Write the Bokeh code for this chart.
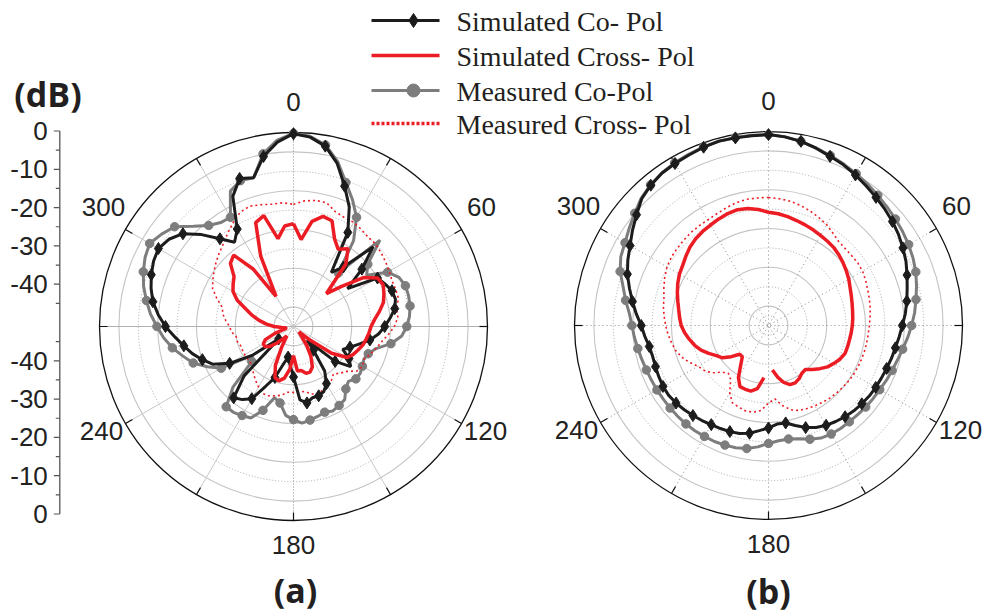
import numpy as np
from bokeh.plotting import figure
from bokeh.models import Range1d
from bokeh.embed import file_html
from bokeh.resources import INLINE
from bokeh.core.properties import value

# ---------------- data (angle in degrees, clockwise from top; level in dB) ----------------
angles = list(range(0, 360, 5))

# (a) left pattern
a_sim_co = [-0.3, -1.0, -2.8, -6.5, -11.5, -16.0, -22.0, -33.0, -30.0, -21.0, -27.0, -33.0,
            -25.0, -24.0, -23.0, -22.8, -23.5, -25.0, -26.5, -28.0, -30.0, -32.5, -34.5, -36.0,
            -33.5, -32.0, -36.0, -45.0, -42.0, -36.0, -33.0, -31.5, -31.0, -31.0, -30.0, -31.0,
            -37.0, -40.0, -42.0, -40.0, -36.0, -33.0, -28.5, -27.0, -26.0, -32.0, -45.0, -37.0,
            -31.0, -27.0, -25.0, -23.0, -21.3, -19.3, -17.0, -15.0, -13.2, -12.0, -11.0, -10.2,
            -9.8, -10.8, -12.8, -16.5, -20.5, -23.5, -21.0, -13.0, -9.4, -10.3, -5.5, -2.3]
a_sim_cross = [-23.5, -27.5, -22.5, -20.6, -21.0, -25.0, -27.0, -25.5, -29.0, -38.0, -34.0, -28.0,
               -25.0, -24.5, -25.2, -26.0, -27.5, -29.0, -30.0, -30.5, -31.0, -31.5, -32.3, -33.0,
               -34.0, -38.0, -45.0, -48.0, -47.0, -44.0, -41.0, -38.5, -37.5, -37.5, -38.5, -38.5,
               -42.5, -39.0, -36.5, -35.5, -36.0, -39.0, -44.0, -47.0, -46.0, -44.0, -42.0, -41.0,
               -41.0, -42.0, -45.0, -48.0, -48.0, -47.0, -45.0, -43.0, -41.0, -39.0, -37.0, -34.0,
               -32.0, -31.0, -30.0, -27.0, -26.0, -32.0, -41.0, -30.0, -21.5, -20.4, -27.0, -24.0]
a_meas_co = [-0.2, -0.8, -2.5, -6.0, -10.5, -14.0, -17.5, -23.0, -32.0, -18.5, -25.0, -27.0,
             -22.0, -20.0, -19.3, -19.3, -19.5, -20.0, -20.8, -22.0, -24.5, -28.0, -29.5, -30.0,
             -29.5, -29.0, -29.0, -30.0, -29.0, -27.0, -26.5, -26.0, -26.5, -26.0, -25.5, -25.0,
             -26.0, -27.0, -30.0, -31.0, -27.0, -24.0, -23.5, -23.0, -23.0, -28.0, -36.0, -37.0,
             -28.5, -25.5, -22.5, -20.5, -18.3, -16.4, -14.8, -13.0, -11.5, -10.0, -8.8, -7.8,
             -7.2, -8.5, -10.0, -13.5, -16.0, -17.3, -17.5, -11.5, -10.0, -10.3, -4.8, -1.8]
a_meas_cross = [-18.5, -17.5, -17.0, -17.0, -18.5, -19.0, -19.0, -19.5, -20.0, -20.0, -20.5, -21.0,
                -21.5, -22.0, -22.0, -22.0, -23.0, -23.0, -24.0, -25.5, -27.0, -28.0, -29.0, -30.0,
                -29.5, -30.0, -32.0, -33.0, -34.0, -33.0, -32.5, -32.0, -31.5, -32.0, -33.0, -33.0,
                -33.0, -33.0, -32.0, -31.5, -31.0, -31.0, -32.0, -33.0, -34.0, -35.0, -35.5, -35.5,
                -35.5, -35.5, -35.5, -35.0, -35.0, -34.0, -33.5, -32.5, -31.5, -31.0, -29.0, -27.0,
                -26.0, -25.0, -24.0, -23.0, -22.0, -20.5, -19.0, -17.5, -17.0, -17.5, -18.0, -18.0]

# (b) right pattern
b_sim_co = [-0.8, -1.2, -1.8, -2.7, -3.6, -4.3, -5.2, -6.1, -6.9, -7.6, -8.3, -9.1,
            -10.0, -10.9, -12.0, -13.0, -13.8, -14.6, -15.5, -16.2, -16.8, -17.2, -17.6, -17.9,
            -18.1, -18.3, -18.6, -18.9, -19.3, -19.8, -20.3, -21.0, -22.0, -23.3, -24.5, -24.5,
            -23.6, -22.8, -21.8, -21.2, -20.9, -20.7, -20.5, -20.1, -19.7, -19.3, -18.9, -18.6,
            -18.6, -18.8, -19.0, -19.1, -18.8, -18.0, -17.2, -15.8, -14.4, -12.9, -11.3, -10.0,
            -8.8, -7.2, -5.6, -3.8, -2.8, -2.1, -1.8, -1.5, -1.1, -0.8, -0.9, -0.9]
b_sim_cross = [-20.8, -21.1, -21.5, -22.0, -22.4, -22.8, -23.2, -23.5, -23.8, -24.3, -24.9, -25.5,
               -26.1, -26.8, -27.3, -27.7, -28.0, -28.2, -28.4, -28.6, -28.8, -28.9, -29.0, -29.6,
               -30.5, -31.4, -32.7, -34.0, -35.2, -35.0, -34.2, -33.7, -33.8, -34.8, -36.5, -38.5,
               None, -36.5, -33.5, -32.5, -32.5, -32.6, -34.5, -37.5, -39.5, -39.5, -37.5, -35.5,
               -34.5, -33.0, -31.5, -30.3, -29.3, -28.3, -27.5, -27.0, -26.5, -25.8, -25.0, -24.2,
               -23.5, -23.0, -22.2, -21.4, -20.8, -20.4, -20.1, -19.7, -19.3, -19.1, -19.4, -20.0]
b_meas_co = [-0.8, -1.2, -1.8, -2.6, -3.4, -4.1, -4.8, -5.5, -6.2, -6.8, -7.3, -7.8,
             -8.3, -8.9, -9.6, -10.5, -11.4, -12.2, -13.1, -14.0, -14.9, -15.6, -16.1, -16.5,
             -16.9, -17.1, -17.3, -17.5, -17.6, -17.6, -17.7, -18.0, -18.8, -19.8, -20.3, -20.2,
             -19.6, -18.6, -17.8, -17.4, -17.2, -17.0, -17.0, -16.9, -16.9, -16.9, -16.9, -16.9,
             -16.8, -16.7, -16.5, -16.2, -15.8, -15.3, -14.8, -14.0, -12.6, -11.2, -9.3, -8.0,
             -7.3, -6.2, -5.0, -3.6, -2.7, -2.0, -1.6, -1.3, -1.0, -0.8, -0.8, -0.8]
b_meas_cross = [-17.0, -17.2, -17.5, -18.0, -18.6, -19.3, -20.0, -21.0, -21.8, -22.0, -22.0, -21.9,
                -22.0, -22.4, -22.8, -23.1, -23.4, -23.7, -24.0, -24.2, -24.3, -24.4, -24.5, -24.6,
                -24.7, -24.9, -25.1, -25.3, -25.5, -25.8, -26.1, -26.4, -26.7, -27.5, -29.0, -31.0,
                -30.0, -28.0, -27.3, -27.2, -27.6, -28.0, -30.0, -33.0, -33.9, -33.0, -31.0, -29.8,
                -29.0, -27.5, -26.2, -25.2, -24.6, -24.0, -23.5, -23.0, -22.5, -22.1, -21.3, -20.5,
                -19.8, -19.4, -19.2, -19.0, -18.8, -18.7, -18.6, -18.3, -17.8, -17.3, -17.0, -17.0]

series_names = ["Simulated Co- Pol", "Simulated Cross- Pol", "Measured Co-Pol", "Measured Cross- Pol"]
angle_ticks = [0, 60, 120, 180, 240, 300]
angle_tick_labels = ["0", "60", "120", "180", "240", "300"]
# dB scale: signed distance from the pattern centre (+ above, - below)
db_ticks = [50, 40, 30, 20, 10, -10, -20, -30, -40, -50]
db_tick_labels = ["0", "-10", "-20", "-30", "-40", "-40", "-30", "-20", "-10", "0"]
db_minor_ticks = [45, 35, 25, 15, 5, -5, -15, -25, -35, -45]
panel_labels = ["(a)", "(b)"]
unit_label = "(dB)"

# ---------------- layout ----------------
W, H = 988, 615
R = 194.0
DB_MIN, DB_MAX = -50.0, 0.0
centers = [(293.0, 326.0), (768.0, 325.0)]

BLACK = "#1c1c1c"
GREY = "#7d7d7d"
RED = "#ec1c24"
TXT = "#231f20"


def yu(y_img):
    return H - np.asarray(y_img, dtype=float)


def to_xy(cx, cy, ang, db):
    ang = np.radians(np.asarray(ang, dtype=float))
    d = np.array([np.nan if v is None else v for v in db], dtype=float)
    r = (d - DB_MIN) / (DB_MAX - DB_MIN) * R
    x = cx + r * np.sin(ang)
    y = cy - r * np.cos(ang)
    return x, yu(y)


def closed(a):
    return list(a) + [a[0]]


p = figure(width=W, height=H, output_backend="svg", toolbar_location=None,
           x_range=Range1d(0, W), y_range=Range1d(0, H),
           x_axis_type=None, y_axis_type=None,
           min_border_left=0, min_border_right=0, min_border_top=0, min_border_bottom=0)
p.outline_line_color = None
p.background_fill_color = "white"

# ---- dB scale bar at the left ----
AX_X, AX_C, AX_PX = 59.3, 322.0, 3.83   # axis x, centre y, pixels per dB


def db_to_y(u):
    return yu(AX_C - np.asarray(u, dtype=float) * AX_PX)


p.segment(x0=[AX_X], y0=db_to_y([50]), x1=[AX_X], y1=db_to_y([-50]),
          line_color="#555555", line_width=1.3)
p.segment(x0=[AX_X] * len(db_ticks), y0=db_to_y(db_ticks),
          x1=[AX_X - 6] * len(db_ticks), y1=db_to_y(db_ticks),
          line_color="#555555", line_width=1.2)
p.segment(x0=[AX_X] * len(db_minor_ticks), y0=db_to_y(db_minor_ticks),
          x1=[AX_X - 4] * len(db_minor_ticks), y1=db_to_y(db_minor_ticks),
          line_color="#555555", line_width=1.2)
p.text(x=[AX_X - 12] * len(db_ticks), y=db_to_y(db_ticks), text=db_tick_labels,
       text_font=value("Liberation Sans"), text_font_size="26px", text_color="#222222",
       text_align="right", text_baseline="middle")
p.text(x=[47.5], y=yu([93]), text=[unit_label], text_font=value("Open Sans"),
       text_font_style="bold", text_font_size="34px", text_color=TXT,
       text_align="center", text_baseline="middle")

all_series = [
    (a_sim_co, a_sim_cross, a_meas_co, a_meas_cross),
    (b_sim_co, b_sim_cross, b_meas_co, b_meas_cross),
]

label_offsets = {0: (0, -225), 60: (188, -120), 120: (192, 104), 180: (0, 218),
                 240: (-192, 104), 300: (-190, -120)}

for k, (cx, cy) in enumerate(centers):
    cyu = float(yu(cy))
    # grid rings
    solid_db = [-45, -35, -25, -15, -5]
    dotted_db = [-40, -30, -20, -10]
    p.circle(x=[cx] * len(solid_db), y=[cyu] * len(solid_db),
             radius=[(d - DB_MIN) / 50 * R for d in solid_db],
             fill_color=None, line_color="#c4c4c4", line_width=1.1)
    p.circle(x=[cx] * len(dotted_db), y=[cyu] * len(dotted_db),
             radius=[(d - DB_MIN) / 50 * R for d in dotted_db],
             fill_color=None, line_color="#a8a8a8", line_width=1, line_dash="1 2")
    if k == 1:
        p.circle(x=[cx], y=[cyu], radius=[(-47.5 - DB_MIN) / 50 * R],
                 fill_color=None, line_color="#a8a8a8", line_width=1, line_dash="1 2")
    # radial lines
    for a in range(0, 180, 30):
        ra = np.radians(a)
        x0, y0 = cx - R * np.sin(ra), cyu - R * np.cos(ra)
        x1, y1 = cx + R * np.sin(ra), cyu + R * np.cos(ra)
        if k == 0:
            if a == 0:
                col, dash = "#8a8a8a", "1 2"
            elif a == 90:
                col, dash = "#b0b0b0", "solid"
            else:
                col, dash = "#c8c8c8", "solid"
        else:
            col, dash = "#8a8a8a", "1 3"
        p.segment(x0=[x0], y0=[y0], x1=[x1], y1=[y1], line_color=col, line_width=1, line_dash=dash)
    # outer circle
    p.circle(x=[cx], y=[cyu], radius=[R], fill_color=None, line_color="#111111", line_width=1.3)
    # outer tick marks every 30 deg
    ta = np.radians(np.arange(0, 360, 30))
    p.segment(x0=cx + R * np.sin(ta), y0=cyu + R * np.cos(ta),
              x1=cx + (R - 8) * np.sin(ta), y1=cyu + (R - 8) * np.cos(ta),
              line_color="#111111", line_width=1.2)
    # angle labels
    lx = [cx + label_offsets[a][0] for a in angle_ticks]
    ly = [float(yu(cy + label_offsets[a][1])) for a in angle_ticks]
    p.text(x=lx, y=ly, text=angle_tick_labels, text_font=value("Liberation Sans"),
           text_font_size="26px", text_color="#222222", text_align="center",
           text_baseline="middle")

    sim_co, sim_cross, meas_co, meas_cross = all_series[k]
    ang_c = closed(angles)
    # measured co-pol (grey with circles)
    x, y = to_xy(cx, cy, ang_c, closed(meas_co))
    p.line(x, y, line_color=GREY, line_width=3)
    x, y = to_xy(cx, cy, angles[::2], meas_co[::2])
    p.scatter(x, y, marker="circle", size=8.5, fill_color=GREY, line_color=GREY)
    # measured cross-pol (red dotted)
    x, y = to_xy(cx, cy, ang_c, closed(meas_cross))
    p.line(x, y, line_color=RED, line_width=1.6, line_dash="2 3")
    # simulated co-pol (black with diamonds)
    x, y = to_xy(cx, cy, ang_c, closed(sim_co))
    p.line(x, y, line_color=BLACK, line_width=3)
    x, y = to_xy(cx, cy, angles[::2], sim_co[::2])
    p.scatter(x, y, marker="diamond", size=12, fill_color=BLACK, line_color=BLACK)
    # simulated cross-pol (red)
    x, y = to_xy(cx, cy, ang_c, closed(sim_cross))
    p.line(x, y, line_color=RED, line_width=3.5)

# panel labels
p.text(x=[295, 768], y=yu([589, 590]), text=panel_labels, text_font=value("Open Sans"),
       text_font_style="bold", text_font_size="34px", text_color=TXT,
       text_align="center", text_baseline="middle")

# legend (drawn in the upper middle)
rows = [20, 55, 90, 123]
lx0, lx1, lmk, ltx = 371, 439, 413, 456
p.line([lx0, lx1], list(yu([rows[0]] * 2)), line_color=BLACK, line_width=3)
p.scatter([lmk], list(yu([rows[0]])), marker="diamond", size=14, fill_color=BLACK, line_color=BLACK)
p.line([lx0, lx1], list(yu([rows[1]] * 2)), line_color=RED, line_width=3.5)
p.line([lx0, lx1], list(yu([rows[2]] * 2)), line_color=GREY, line_width=3)
p.scatter([lmk], list(yu([rows[2]])), marker="circle", size=13, fill_color=GREY, line_color=GREY)
p.line([lx0, lx1], list(yu([rows[3]] * 2)), line_color=RED, line_width=3.5, line_dash="3 2")
p.text(x=[ltx] * 4, y=yu([r + 1 for r in rows]), text=series_names,
       text_font=value("Liberation Serif"), text_font_size="28px", text_color=TXT,
       text_align="left", text_baseline="middle")

open("out.html", "w").write(file_html(p, INLINE))
